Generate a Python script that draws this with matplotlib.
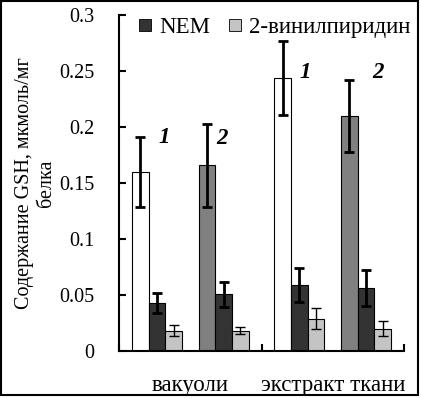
import numpy as np
import matplotlib
matplotlib.use('Agg')
import matplotlib.pyplot as plt
from matplotlib.lines import Line2D
from matplotlib.patches import Rectangle

plt.rcParams['font.family'] = ['Liberation Serif', 'DejaVu Serif']

categories = ['вакуоли', 'экстракт ткани']

# группа 1: без обработки / NEM / 2-винилпиридин
v1 = [0.160, 0.2435]
e1 = [0.031, 0.033]
nem1 = [0.043, 0.059]
nem1_err = [0.009, 0.015]
vp1 = [0.018, 0.029]
vp1_err = [0.005, 0.009]

# группа 2
v2 = [0.166, 0.210]
e2 = [0.037, 0.032]
nem2 = [0.0505, 0.056]
nem2_err = [0.011, 0.016]
vp2 = [0.018, 0.020]
vp2_err = [0.003, 0.007]

num_labels = ['1', '2', '1', '2']
num_x = [-0.18, 0.22, 0.81, 1.32]
num_y = [0.191, 0.190, 0.249, 0.249]

fig = plt.figure(figsize=(4.21, 3.98), dpi=100)
ax = fig.add_axes([0.2827, 0.1181, 0.6769, 0.8442])

x = np.arange(len(categories))
w = 0.117
fs = 14.5
fs_big = 16.5

bars = [
    (-3, v1, e1, 'white', 2.0),
    (-2, nem1, nem1_err, '#333333', 2.0),
    (-1, vp1, vp1_err, '#c4c4c4', 1.0),
    (1, v2, e2, '#808080', 2.0),
    (2, nem2, nem2_err, '#333333', 2.0),
    (3, vp2, vp2_err, '#c4c4c4', 1.0),
]
for k, vals, errs, col, elw in bars:
    ax.bar(x + k * w, vals, w, color=col, edgecolor='black', linewidth=0.8, zorder=2)
    ax.errorbar(x + k * w, vals, yerr=errs, fmt='none', ecolor='black',
                elinewidth=elw, capsize=3.5, capthick=elw, zorder=3)

for t, tx, ty in zip(num_labels, num_x, num_y):
    ax.text(tx, ty, t, fontsize=fs_big, fontweight='bold', fontstyle='italic',
            ha='center', va='center')

ax.set_xlim(-0.5, 1.5)
ax.set_ylim(0, 0.3)
ax.set_yticks(np.arange(0, 0.31, 0.05))
ax.set_yticklabels(['0', '0.05', '0.1', '0.15', '0.2', '0.25', '0.3'])
ax.set_xticks(x)
ax.set_xticklabels(categories)
ax.set_xticks([-0.5, 0.5, 1.5], minor=True)
ax.tick_params(axis='x', which='major', length=0, labelsize=fs_big, pad=17)
ax.tick_params(axis='x', which='minor', direction='in', length=5, width=1.5)
ax.tick_params(axis='y', direction='in', length=5, width=1.5, labelsize=fs, pad=18)
for s in ['top', 'right']:
    ax.spines[s].set_visible(False)
for s in ['left', 'bottom']:
    ax.spines[s].set_linewidth(1.5)

ax.set_ylabel('Содержание GSH, мкмоль/мг\nбелка', fontsize=fs, labelpad=2,
              linespacing=1.2)

handles = [
    Line2D([], [], marker='s', ls='none', markersize=8, markerfacecolor='#333333',
           markeredgecolor='black', markeredgewidth=0.6),
    Line2D([], [], marker='s', ls='none', markersize=8, markerfacecolor='#c4c4c4',
           markeredgecolor='black', markeredgewidth=0.6),
]
ax.legend(handles, ['NEM', '2-винилпиридин'], ncol=2, loc='upper right',
          bbox_to_anchor=(1.07, 1.035), frameon=False, fontsize=fs_big,
          handlelength=0.6, handletextpad=0.3, columnspacing=0.8,
          borderaxespad=0.2)

fig.patches.append(Rectangle((0.002, 0.007), 0.99, 0.99, transform=fig.transFigure,
                             fill=False, edgecolor='black', linewidth=1.5))

plt.savefig('out.png', dpi=100)
